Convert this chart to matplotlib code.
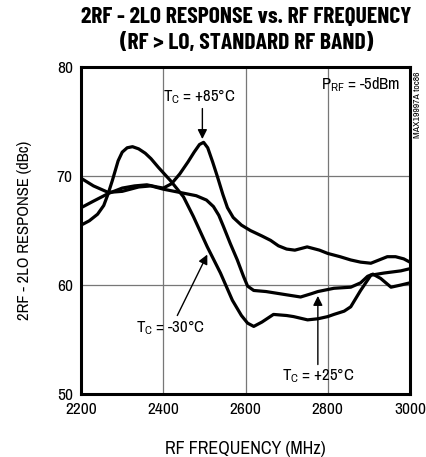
import matplotlib
matplotlib.use('Agg')
from matplotlib import pyplot as plt

plt.rcParams['font.family'] = ['Archivo Narrow', 'DejaVu Sans']
plt.rcParams['mathtext.default'] = 'regular'

# Tc = -30C
f_m30 = [2200, 2220, 2240, 2255, 2265, 2276, 2290, 2300, 2312, 2325, 2340, 2356, 2370, 2388,
         2417, 2449, 2473, 2507, 2539, 2568, 2590, 2605, 2620, 2640, 2668, 2700, 2717, 2751,
         2776, 2800, 2815, 2840, 2856, 2880, 2905, 2937, 2978, 3000]
r_m30 = [65.5, 65.9, 66.5, 67.3, 68.3, 69.6, 71.4, 72.2, 72.6, 72.7, 72.5, 72.1, 71.6, 70.8,
         69.6, 68.1, 66.3, 63.5, 61.1, 58.6, 57.2, 56.5, 56.2, 56.6, 57.3, 57.2, 57.1, 56.8,
         56.9, 57.1, 57.3, 57.6, 58.0, 59.5, 60.9, 61.1, 61.3, 61.5]

# Tc = +85C
f_p85 = [2200, 2230, 2266, 2300, 2330, 2360, 2385, 2400, 2420, 2440, 2460, 2475, 2488, 2498,
         2508, 2520, 2532, 2545, 2556, 2570, 2590, 2612, 2640, 2661, 2680, 2700, 2720, 2750,
         2780, 2800, 2830, 2856, 2880, 2905, 2925, 2945, 2965, 2985, 3000]
r_p85 = [67.1, 67.7, 68.4, 68.9, 69.1, 69.2, 69.0, 68.9, 69.3, 70.2, 71.3, 72.2, 72.9, 73.1,
         72.6, 71.3, 69.9, 68.3, 67.1, 66.2, 65.5, 65.0, 64.5, 64.1, 63.6, 63.3, 63.2, 63.5,
         63.2, 62.9, 62.6, 62.3, 62.1, 62.0, 62.3, 62.6, 62.6, 62.4, 62.1]

# Tc = +25C
f_p25 = [2200, 2230, 2266, 2300, 2340, 2370, 2400, 2440, 2480, 2505, 2522, 2535, 2546, 2563,
         2580, 2595, 2605, 2620, 2650, 2700, 2734, 2760, 2776, 2815, 2856, 2880, 2897, 2910,
         2929, 2954, 2978, 3000]
r_p25 = [69.8, 69.1, 68.5, 68.6, 69.0, 69.1, 68.8, 68.5, 68.2, 67.8, 67.2, 66.4, 65.4, 63.8,
         62.3, 60.8, 59.9, 59.5, 59.4, 59.1, 58.9, 59.2, 59.4, 59.7, 59.8, 60.2, 60.8, 61.0,
         60.6, 59.8, 60.0, 60.2]

xticks = [2200, 2400, 2600, 2800, 3000]
yticks = [50, 60, 70, 80]

fig = plt.figure(figsize=(4.27, 4.57), dpi=100)
ax = fig.add_axes([0.190, 0.138, 0.770, 0.715])

for f, r in [(f_m30, r_m30), (f_p85, r_p85), (f_p25, r_p25)]:
    ax.plot(f, r, color='black', lw=2.3, solid_capstyle='round', zorder=3)

ax.set_xlim(2200, 3000)
ax.set_ylim(50, 80)
ax.set_xticks(xticks)
ax.set_yticks(yticks)
ax.tick_params(length=0, labelsize=12.5, pad=6)
ax.grid(True, color='#777777', lw=0.9)
for s in ax.spines.values():
    s.set_linewidth(2.2)

ax.set_xlabel('RF FREQUENCY (MHz)', fontsize=13, labelpad=17)
ax.set_ylabel('2RF - 2LO RESPONSE (dBc)', fontsize=12, labelpad=18)

tfont = ['Barlow Condensed', 'Archivo Narrow', 'DejaVu Sans']
fig.text(0.577, 0.962, '2RF - 2LO RESPONSE vs. RF FREQUENCY', ha='center', va='center',
         fontsize=17, fontweight='bold', family=tfont)
fig.text(0.577, 0.905, '(RF > LO, STANDARD RF BAND)', ha='center', va='center',
         fontsize=17, fontweight='bold', family=tfont)

arr = dict(arrowstyle='-|>', color='black', lw=1.0, mutation_scale=14, shrinkA=0, shrinkB=0)
ax.annotate('', xy=(2495, 73.4), xytext=(2495, 76.2), arrowprops=arr)
ax.text(2488, 77.3, 'T$_C$ = +85°C', ha='center', va='center', fontsize=12)
ax.annotate('', xy=(2507, 62.8), xytext=(2434, 57.2), arrowprops=arr)
ax.text(2417, 56.1, 'T$_C$ = -30°C', ha='center', va='center', fontsize=12)
ax.annotate('', xy=(2776, 59.0), xytext=(2776, 52.7), arrowprops=arr)
ax.text(2778, 51.7, 'T$_C$ = +25°C', ha='center', va='center', fontsize=12)
ax.text(2880, 78.4, 'P$_{RF}$ = -5dBm', ha='center', va='center', fontsize=12)

fig.text(0.977, 0.77, 'MAX19997A toc86', rotation=90, ha='center', va='center', fontsize=7)

plt.savefig('out.png', dpi=100)
